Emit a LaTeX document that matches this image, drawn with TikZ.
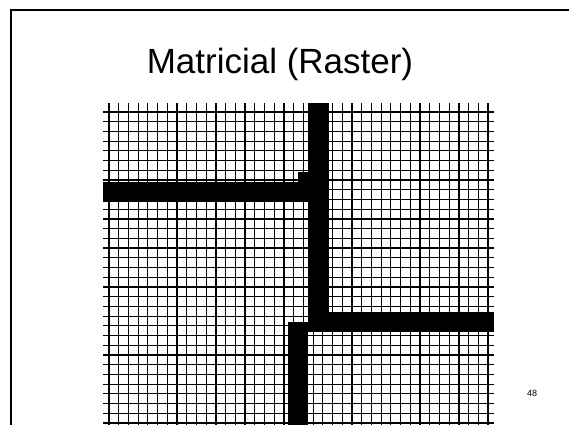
\documentclass[tikz,border=0pt]{standalone}
\usepackage{fontspec}
\setmainfont{Liberation Sans}
\usetikzlibrary{positioning}

\begin{document}
\begin{tikzpicture}[x=1pt, y=-1pt,
      gridline/.style={draw=black, line width=1.2pt},
      cellfill/.style={fill=black},
      frame/.style={draw=black, line width=2pt},
      title/.style={anchor=base, font=\fontsize{35}{40}\selectfont},
      pagenum/.style={anchor=base, font=\fontsize{9}{10}\selectfont}
    ]
    \path[use as bounding box, clip] (0,0) rectangle (569,424);
    \fill[white] (0,0) rectangle (569,424);

    % Folienrahmen
    \draw[frame] (11,460) -- (11,10) -- (620,10);

    % Titel
    \node[title] (title) at (280,73) {Matricial (Raster)};

    % Raster
    \foreach \i in {0,...,39}
      \draw[gridline] ({109+9.72*\i},103) -- ++(0,340);
    \foreach \j in {0,...,32}
      \draw[gridline] (103,{112+9.72*\j}) -- (494,{112+9.72*\j});

    % Schwarze Zellen
    \fill[cellfill] (103,182) rectangle (309,202);
    \fill[cellfill] (298,172) rectangle (309,182);
    \fill[cellfill] (308,103) rectangle (329,332);
    \fill[cellfill] (308,312) rectangle (494,332);
    \fill[cellfill] (288,322) rectangle (308,430);

    % Seitenzahl
    \node[pagenum] (pagenum) at (532,396) {48};
  \end{tikzpicture}
\end{document}
